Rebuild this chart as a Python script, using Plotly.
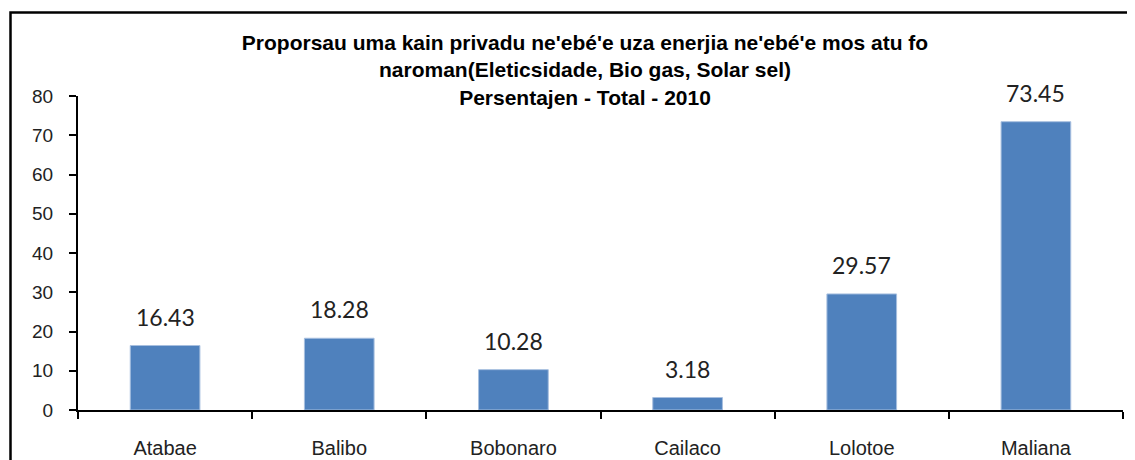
import plotly.graph_objects as go

# values
districts = ['Atabae', 'Balibo', 'Bobonaro', 'Cailaco', 'Lolotoe', 'Maliana']
percent = [16.43, 18.28, 10.28, 3.18, 29.57, 73.45]
y_ticks = [0, 10, 20, 30, 40, 50, 60, 70, 80]

title_lines = [
    "Proporsau uma kain privadu ne'ebé'e uza enerjia ne'ebé'e mos atu fo",
    "naroman(Eleticsidade, Bio gas, Solar sel)",
    "Persentajen - Total - 2010",
]

# the page body adds an 8px margin, so the figure is drawn 8px smaller
W, H = 1127, 452
L, R, T, B = 70, 12, 88, 50
pw, ph = W - L - R, H - T - B

fig = go.Figure()
fig.add_trace(go.Bar(x=districts,
                     y=percent,
                     marker=dict(color='#4F81BD', line=dict(color='#a7bfdf', width=1)),
                     hoverinfo='x+y'
                     ))

# data labels sit a bit above each bar
for d, v in zip(districts, percent):
    fig.add_annotation(x=d, y=v, text=f'{v:.2f}', showarrow=False,
                       yanchor='bottom', yshift=13,
                       font=dict(family='Lato', size=23, color='#222222'))

# outer chart border (right and bottom run off the picture)
fig.add_shape(type='rect', xref='paper', yref='paper',
              x0=(2.5 - L) / pw, x1=(W + 20 - L) / pw,
              y0=-(H + 20 - T - ph) / ph, y1=(H - B - 4.5) / ph,
              line=dict(color='black', width=2.5), layer='below')

fig.update_layout(
    width=W, height=H,
    margin=dict(l=L, r=R, t=T, b=B),
    paper_bgcolor='white', plot_bgcolor='white',
    showlegend=False,
    bargap=0.6,
    font=dict(family='Liberation Sans', color='black'),
    title=dict(text='<br>'.join(title_lines),
               x=(577 - L) / pw, xref='paper', xanchor='center',
               y=1 - 42 / H, yref='container', yanchor='top',
               font=dict(family='Liberation Sans', size=21, color='black', weight='bold')),
)
fig.update_xaxes(showline=True, linecolor='black', linewidth=2, automargin=False,
                 ticks='outside', tickson='boundaries', ticklen=7, tickwidth=2, tickcolor='black',
                 ticklabelstandoff=19,
                 tickfont=dict(size=20, color='#222222'), showgrid=False)
fig.update_yaxes(range=[0, 80], tickvals=y_ticks, showline=True, linecolor='black', linewidth=2,
                 automargin=False,
                 ticks='outside', ticklen=7, tickwidth=2, tickcolor='black',
                 ticklabelstandoff=12,
                 tickfont=dict(size=19, color='#222222'), showgrid=False, zeroline=False)

fig.write_html("out.html")
